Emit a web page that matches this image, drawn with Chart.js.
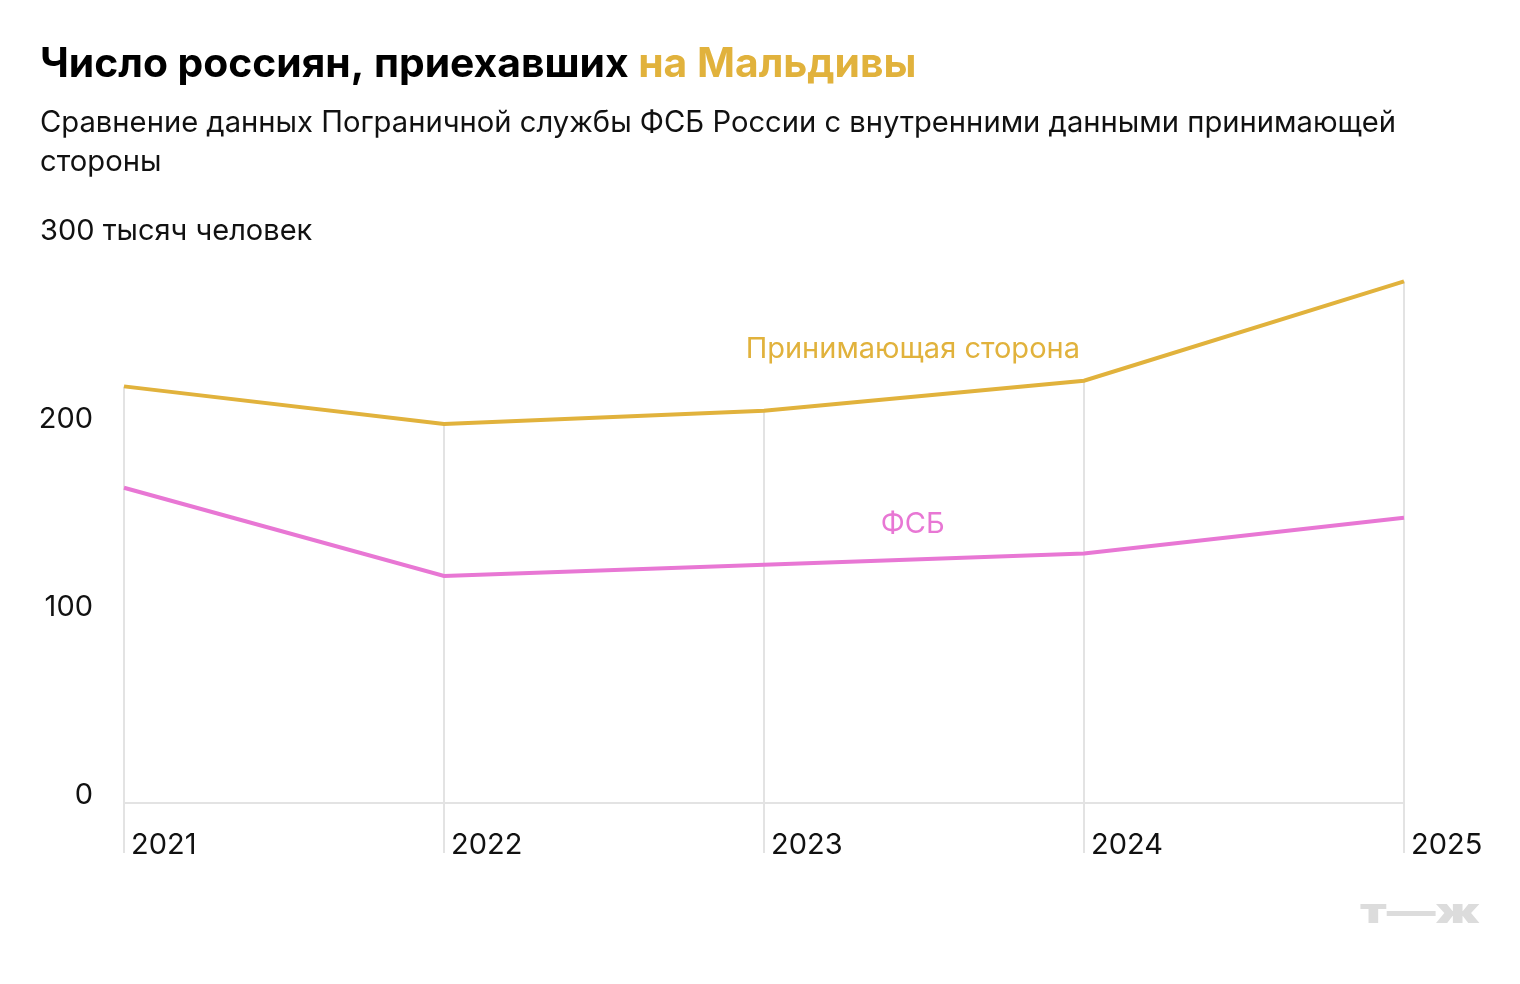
<!DOCTYPE html>
<html>
<head>
<meta charset="utf-8">
<script src="https://cdn.jsdelivr.net/npm/chart.js@4/dist/chart.umd.min.js"></script>
<style>
  html, body { margin: 0; padding: 0; background: #fff; }
  #wrap { position: relative; width: 1520px; height: 984px; }
</style>
</head>
<body>
<div id="wrap"><canvas id="c"></canvas></div>
<script>
const years = ['2021', '2022', '2023', '2024', '2025'];
const hostValues = [222, 202, 209, 225, 278];
const fsbValues = [168, 121, 127, 133, 152];
const yTickValues = [0, 100, 200];
const unitLabel = '300 тысяч человек';
const titleMain = 'Число россиян, приехавших ';
const titleAccent = 'на Мальдивы';
const subtitleLines = ['Сравнение данных Пограничной службы ФСБ России с внутренними данными принимающей', 'стороны'];
const seriesNames = ['Принимающая сторона', 'ФСБ'];
const logoText = 'т—ж';

const GOLD = '#e1b23c';
const PINK = '#e877d4';
const GRID = '#e3e3e3';
const FONT = 'Inter';

const dropLines = {
  id: 'dropLines',
  beforeDatasetsDraw(chart) {
    const ctx = chart.ctx;
    const meta = chart.getDatasetMeta(0);
    const y0 = chart.scales.y.getPixelForValue(0);
    ctx.save();
    ctx.strokeStyle = GRID;
    ctx.lineWidth = 2;
    meta.data.forEach(pt => {
      ctx.beginPath();
      ctx.moveTo(pt.x, pt.y);
      ctx.lineTo(pt.x, y0 + 50);
      ctx.stroke();
    });
    ctx.restore();
  }
};

const texts = {
  id: 'texts',
  afterDraw(chart) {
    const ctx = chart.ctx;
    const xs = chart.scales.x, ys = chart.scales.y;
    ctx.save();
    ctx.textBaseline = 'alphabetic';
    // title
    ctx.font = `700 40.8px ${FONT}`;
    ctx.fillStyle = '#000';
    ctx.textAlign = 'left';
    ctx.fillText(titleMain, 40, 77);
    const w = ctx.measureText(titleMain).width;
    ctx.fillStyle = GOLD;
    ctx.fillText(titleAccent, 40 + w, 77);
    // subtitle
    ctx.font = `400 29.2px ${FONT}`;
    ctx.fillStyle = '#111';
    subtitleLines.forEach((l, i) => ctx.fillText(l, 40, 132 + i * 39));
    // unit
    ctx.font = `400 29px ${FONT}`;
    ctx.fillText(unitLabel, 40, ys.getPixelForValue(300));
    // series labels
    ctx.textAlign = 'center';
    ctx.fillStyle = GOLD;
    ctx.fillText(seriesNames[0], xs.getPixelForValue(2.465), ys.getPixelForValue(237));
    ctx.fillStyle = PINK;
    ctx.fillText(seriesNames[1], xs.getPixelForValue(2.465), ys.getPixelForValue(144));
    // logo
    ctx.textAlign = 'left';
    ctx.fillStyle = '#dcdcdc';
    ctx.font = `900 34px ${FONT}`;
    const lw = ctx.measureText(logoText).width;
    ctx.translate(1360, 923);
    ctx.scale(120 / lw, 1);
    ctx.fillText(logoText, 0, 0);
    ctx.restore();
  }
};

new Chart(document.getElementById('c'), {
  type: 'line',
  data: {
    labels: years,
    datasets: [
      { data: hostValues, borderColor: GOLD, borderWidth: 4, pointRadius: 0, tension: 0, fill: false },
      { data: fsbValues, borderColor: PINK, borderWidth: 4, pointRadius: 0, tension: 0, fill: false }
    ]
  },
  options: {
    responsive: true,
    maintainAspectRatio: false,
    animation: false,
    events: [],
    layout: { padding: { top: 240, left: 0, right: 116, bottom: 0 } },
    plugins: { legend: { display: false }, tooltip: { enabled: false }, title: { display: false } },
    scales: {
      x: {
        type: 'category',
        offset: false,
        grid: { display: false, drawTicks: false },
        border: { display: false },
        ticks: {
          align: 'start', labelOffset: 7, padding: 25, maxRotation: 0, autoSkip: false,
          color: '#111', font: { family: FONT, size: 29 }
        },
        afterFit(s) { s.height = 181; s.paddingLeft = 0; s.paddingRight = 0; }
      },
      y: {
        min: 0, max: 300,
        grid: {
          drawTicks: false,
          lineWidth: 2,
          color: c => (c.tick && c.tick.value === 0) ? GRID : 'rgba(0,0,0,0)'
        },
        border: { display: false },
        ticks: {
          stepSize: 100, padding: 31, labelOffset: -8,
          color: '#111', font: { family: FONT, size: 29 },
          callback: v => yTickValues.includes(v) ? String(v) : ''
        },
        afterFit(s) { s.width = 124; s.paddingTop = 0; s.paddingBottom = 0; }
      }
    }
  },
  plugins: [dropLines, texts]
});
</script>
</body>
</html>
